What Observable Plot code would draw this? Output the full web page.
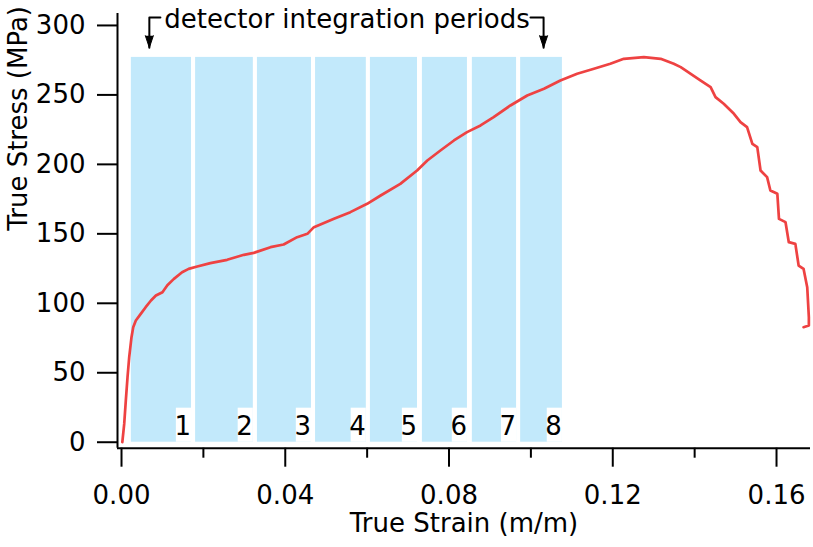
<!DOCTYPE html>
<html><head><meta charset="utf-8">
<script src="https://cdn.jsdelivr.net/npm/d3@7"></script>
<script src="https://cdn.jsdelivr.net/npm/@observablehq/plot@0.6"></script>
<style>
body{margin:0;background:#fff}
svg{font-family:"DejaVu Sans",sans-serif}
</style>
</head><body><div id="chart"></div>
<script>
// True strain (m/m) and true stress (MPa)
const strain = [0.0002,0.00066,0.00105,0.00147,0.00188,0.00244,0.00286,0.0035,0.0047,0.0059,0.0072,0.0084,0.0100,0.0112,0.0128,0.0148,0.0164,0.0185,0.0217,0.0258,0.0299,0.0323,0.0364,0.0396,0.0429,0.0454,0.0470,0.0519,0.0559,0.0600,0.0633,0.0681,0.0722,0.0747,0.0779,0.0812,0.0844,0.0877,0.0909,0.0950,0.0991,0.1032,0.1072,0.1113,0.1154,0.1194,0.1227,0.1276,0.1317,0.1349,0.1366,0.1414,0.1439,0.1451,0.1471,0.1496,0.1512,0.1528,0.1541,0.1553,0.1561,0.1577,0.1585,0.1602,0.1606,0.1622,0.1630,0.1646,0.1654,0.1666,0.1675,0.1679,0.1679,0.1666];
const stress = [0,13.2,30,46.8,61.2,75.6,82.8,87.6,92.4,97.2,102,105.6,108,113,117.6,122.4,124.8,126.5,128.9,131.3,134.9,136.3,140.4,142.3,147.6,150,154.8,160.8,165.6,171.6,177.6,186,195.6,202.8,210,217.2,223.2,228,234,242.4,249.6,254.4,260.4,265.2,268.8,272.4,276,277.2,276,272.4,270,260.4,255.6,248.4,243.6,236.4,230.4,226.8,214.8,212.4,195.6,190.8,181.2,178.8,160.8,158.4,144,142.8,127.2,124.8,111.6,90,84,82.8];

// Detector integration periods
const periodLabels = ["1","2","3","4","5","6","7","8"];
const periodStart = [0.0024,0.0181,0.0332,0.0474,0.0608,0.0735,0.0857,0.0975];
const periodEnd   = [0.0171,0.0322,0.0464,0.0598,0.0723,0.0845,0.0965,0.1077];
const periodTop = 277;
const labelBoxWidth = 0.0037;
const labelBoxTop = 24.5;
const labelY = 11;

// Annotation
const annotationText = "detector integration periods";
const annotationX = 0.0551;
const bracketY = 305.7;
const arrowStrain = [0.0068, 0.1031];
const bracketInner = [0.0095, 0.0999];
const arrowTip = 284;

// Axes
const xDomain = [-0.00098, 0.1683];
const yDomain = [-4.3, 308.6];
const xTicks = [0, 0.04, 0.08, 0.12, 0.16];
const xMinorTicks = [0.02, 0.06, 0.10, 0.14];
const yTicks = [0, 50, 100, 150, 200, 250, 300];
const xTitle = "True Strain (m/m)";
const yTitle = "True Stress (MPa)";

const curve = strain.map((s, i) => ({strain: s, stress: stress[i]}));
const periods = periodLabels.map((l, i) => ({label: l, start: periodStart[i], end: periodEnd[i]}));
const bracketLeft = [{x: arrowStrain[0], y: arrowTip}, {x: arrowStrain[0], y: bracketY}, {x: bracketInner[0], y: bracketY}];
const bracketRight = [{x: bracketInner[1], y: bracketY}, {x: arrowStrain[1], y: bracketY}, {x: arrowStrain[1], y: arrowTip}];

const FS = 26;
const chart = Plot.plot({
  width: 813, height: 547,
  marginLeft: 117, marginRight: 3, marginTop: 13, marginBottom: 99.3,
  style: {fontSize: FS + "px", fontFamily: "'DejaVu Sans', sans-serif", color: "#000", background: "#fff"},
  x: {domain: xDomain},
  y: {domain: yDomain},
  marks: [
    Plot.rect(periods, {x1: "start", x2: "end", y1: 0, y2: periodTop, fill: "#c2e9fb"}),
    Plot.rect(periods, {x1: d => d.end - labelBoxWidth, x2: "end", y1: 0, y2: labelBoxTop, fill: "#fff"}),
    Plot.text(periods, {x: "end", y: labelY, text: "label", textAnchor: "end", dx: -0.5, fontSize: FS, fill: "#000"}),
    Plot.line(curve, {x: "strain", y: "stress", stroke: "#ee4242", strokeWidth: 2.7}),
    Plot.line(bracketLeft, {x: "x", y: "y", stroke: "#000", strokeWidth: 2}),
    Plot.line(bracketRight, {x: "x", y: "y", stroke: "#000", strokeWidth: 2}),
    Plot.vector(arrowStrain, {x: d => d, y: arrowTip, length: 12, rotate: 180, shape: "spike", r: 4, anchor: "end", fill: "#000", stroke: "#000", strokeWidth: 1}),
    Plot.text([annotationText], {x: annotationX, y: bracketY, dy: 2, text: d => d, fontSize: FS, fill: "#000"}),
    Plot.ruleY([yDomain[0]], {x1: xDomain[0], x2: xDomain[1], stroke: "#000", strokeWidth: 2}),
    Plot.ruleX([xDomain[0]], {y1: yDomain[0], y2: yDomain[1], stroke: "#000", strokeWidth: 2}),
    Plot.axisX({ticks: xTicks, tickSize: 19, tickPadding: 18, tickFormat: d3.format(".2f"), strokeWidth: 2, label: null, fontSize: FS}),
    Plot.axisX({ticks: xMinorTicks, tickSize: 10, tickFormat: () => "", strokeWidth: 2, label: null}),
    Plot.axisY({ticks: yTicks, tickSize: 20, tickPadding: 12, strokeWidth: 2, label: null, fontSize: FS}),
    Plot.text([xTitle], {frameAnchor: "bottom", dy: 84, text: d => d, fontSize: FS, fill: "#000"}),
    Plot.text([yTitle], {frameAnchor: "left", dx: -99, rotate: -90, text: d => d, fontSize: FS, fill: "#000"})
  ]
});
document.getElementById("chart").appendChild(chart);
</script>
</body></html>
